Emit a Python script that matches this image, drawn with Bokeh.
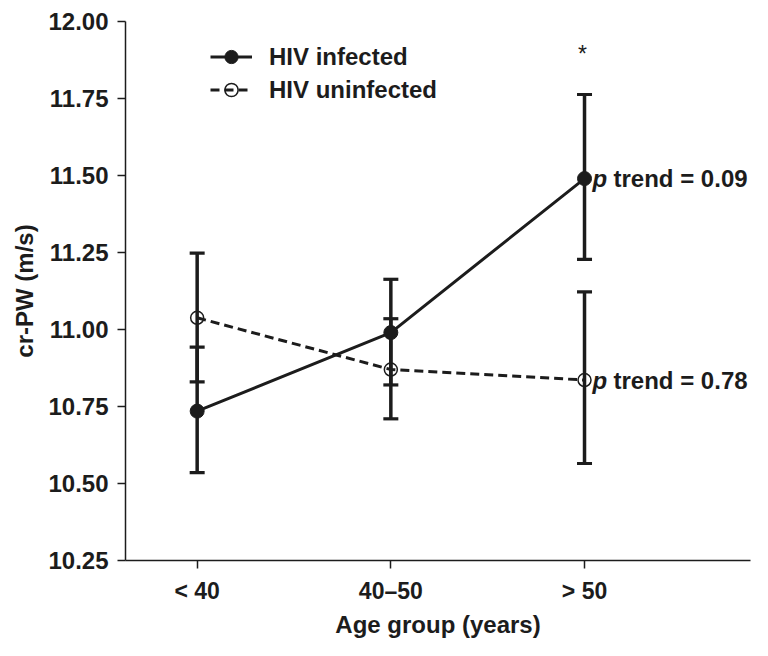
from bokeh.plotting import figure
from bokeh.models import (ColumnDataSource, Whisker, TeeHead, FixedTicker, Range1d,
                          Legend, LegendItem)
from bokeh.core.properties import value
from bokeh.embed import file_html
from bokeh.resources import INLINE

# ---- data ----
groups = ["< 40", "40–50", "> 50"]
group_pos = [0, 1, 2]
infected_mean = [10.735, 10.99, 11.49]
infected_lo = [10.535, 10.82, 11.228]
infected_hi = [10.943, 11.163, 11.763]
uninf_mean = [11.038, 10.87, 10.836]
uninf_lo = [10.83, 10.71, 10.565]
uninf_hi = [11.248, 11.035, 11.122]
p_trend = ["0.09", "0.78"]
y_ticks = [10.25, 10.50, 10.75, 11.00, 11.25, 11.50, 11.75, 12.00]

FONT = "Liberation Sans"
INK = "#1c1c1c"

p = figure(width=752, height=640, output_backend="svg", toolbar_location=None,
           x_range=Range1d(-0.37, 2.857), y_range=Range1d(10.25, 12.0),
           min_border_left=125, min_border_right=2, min_border_top=21,
           min_border_bottom=77)
p.outline_line_color = None
p.grid.visible = False
p.background_fill_color = "white"

src_inf = ColumnDataSource(dict(x=group_pos, y=infected_mean, lo=infected_lo, hi=infected_hi))
src_un = ColumnDataSource(dict(x=group_pos, y=uninf_mean, lo=uninf_lo, hi=uninf_hi))

for s in (src_un, src_inf):
    w = Whisker(source=s, base="x", upper="hi", lower="lo", line_width=3.5,
                line_color=INK,
                upper_head=TeeHead(size=15, line_width=3.2, line_color=INK),
                lower_head=TeeHead(size=15, line_width=3.2, line_color=INK))
    p.add_layout(w)

l_un = p.line("x", "y", source=src_un, line_width=3, line_color=INK, line_dash="9 5")
m_un = p.scatter("x", "y", source=src_un, size=13, marker="circle",
                 fill_alpha=0, line_color=INK, line_width=1.5)
l_inf = p.line("x", "y", source=src_inf, line_width=3, line_color=INK)
m_inf = p.scatter("x", "y", source=src_inf, size=14, marker="circle",
                  fill_color=INK, line_color=INK)

# p trend annotations
pt_src = ColumnDataSource(dict(x=[group_pos[-1]] * 2,
                               y=[infected_mean[-1], uninf_mean[-1]],
                               t=["trend = " + v for v in p_trend],
                               pp=["p", "p"]))
p.text("x", "y", text="pp", source=pt_src, x_offset=8, text_baseline="middle",
       text_font=value(FONT), text_font_size="24px", text_font_style="bold italic",
       text_color=INK)
p.text("x", "y", text="t", source=pt_src, x_offset=29, text_baseline="middle",
       text_font=value(FONT), text_font_size="24px", text_font_style="bold",
       text_color=INK)

# significance asterisk
st_src = ColumnDataSource(dict(x=[group_pos[-1]], y=[infected_hi[-1]], t=["*"]))
p.text("x", "y", text="t", source=st_src, y_offset=-40, x_offset=-2, text_align="center",
       text_baseline="middle", text_font=value(FONT), text_font_size="23px",
       text_color=INK)

# axes
for ax in (p.xaxis[0], p.yaxis[0]):
    ax.axis_line_width = 1.5
    ax.axis_line_color = INK
    ax.major_tick_line_color = INK
    ax.major_tick_line_width = 1.5
    ax.major_tick_in = 0
    ax.major_tick_out = 8
    ax.minor_tick_line_color = None
    ax.major_label_text_font = FONT
    ax.major_label_text_font_style = "bold"
    ax.major_label_text_color = INK
    ax.axis_label_text_font = FONT
    ax.axis_label_text_font_style = "bold"
    ax.axis_label_text_color = INK
    ax.axis_label_text_font_size = "24px"

p.yaxis.ticker = FixedTicker(ticks=y_ticks)
p.yaxis.major_label_overrides = {t: f"{t:.2f}" for t in y_ticks}
p.yaxis.major_label_text_font_size = "24px"
p.yaxis.major_label_standoff = 9
p.yaxis.axis_label = "cr-PW (m/s)"
p.yaxis.axis_label_standoff = 7

p.xaxis.ticker = FixedTicker(ticks=group_pos)
p.xaxis.major_label_overrides = {g: lab for g, lab in zip(group_pos, groups)}
p.xaxis.major_label_text_font_size = "23px"
p.xaxis.major_label_standoff = 9
p.xaxis.axis_label = "Age group (years)"
p.xaxis.axis_label_standoff = 4

legend = Legend(items=[LegendItem(label="HIV infected", renderers=[l_inf, m_inf]),
                       LegendItem(label="HIV uninfected", renderers=[l_un, m_un])],
                location=(85, 454), padding=0, margin=0, spacing=0,
                glyph_width=42, glyph_height=33, label_height=33, label_standoff=17,
                border_line_color=None, background_fill_alpha=0,
                label_text_font=FONT, label_text_font_style="bold",
                label_text_font_size="24px", label_text_color=INK,
                label_text_baseline="middle")
p.add_layout(legend)

open("out.html", "w").write(file_html(p, INLINE))
